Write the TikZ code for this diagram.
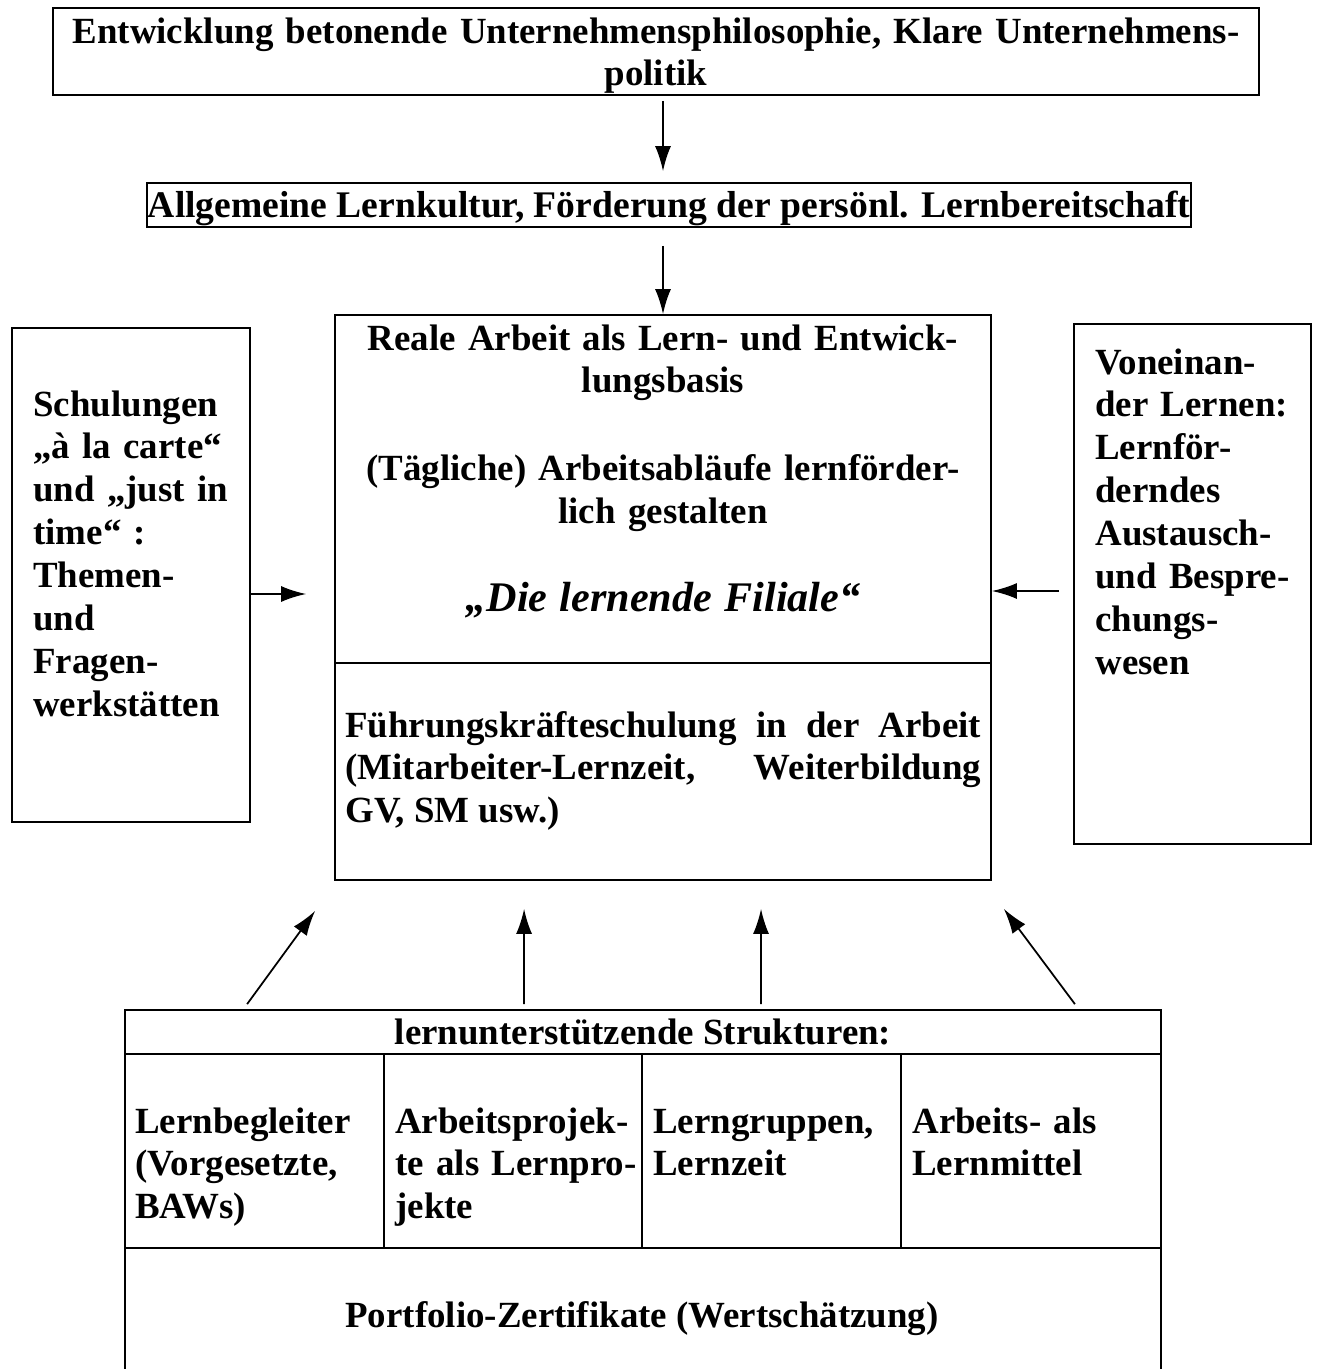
\documentclass[tikz,border=0pt]{standalone}
\usepackage{fontspec}
\setmainfont{Liberation Serif}
\usetikzlibrary{arrows.meta,fit,positioning}
\tikzset{>={Latex[length=5mm,width=3.2mm]}}
\tikzset{
  box/.style={draw, line width=1pt, inner sep=0pt},
  txt/.style={inner sep=0pt, font=\bfseries\fontsize{21}{24.4}\selectfont},
  arr/.style={->, line width=1pt},
}

\begin{document}
\begin{tikzpicture}[x=0.02cm, y=-0.02cm]
  \useasboundingbox (0,0) rectangle (1320,1369);

  % boxes, corners in px of the scan
  \node[box, fit={(53,8) (1259,95)}] (philo) {};
  \node[box, fit={(147,183) (1191,227)}] (kultur) {};
  \node[box, fit={(335,315) (991,663)}] (work) {};
  \node[box, fit={(335,663) (991,880)}] (lead) {};
  \node[box, fit={(12,328) (250,822)}] (school) {};
  \node[box, fit={(1074,324) (1311,844)}] (peer) {};
  \node[box, fit={(125,1010) (1161,1054)}] (struct) {};
  \node[box, fit={(125,1054) (384,1248)}] (cellA) {};
  \node[box, fit={(384,1054) (642,1248)}] (cellB) {};
  \node[box, fit={(642,1054) (901,1248)}] (cellC) {};
  \node[box, fit={(901,1054) (1161,1248)}] (cellD) {};
  \node[box, fit={(125,1248) (1161,1375)}] (folio) {};

  % texts
  \node[txt, text width=26cm, align=center, anchor=base] (philoT) at (656,43)
    {Entwicklung betonende Unternehmensphilosophie, Klare Unternehmens-\\politik};
  \node[txt, anchor=base] (kulturT) at (669,217)
    {\fontsize{21.4}{24.4}\selectfont Allgemeine Lernkultur, Förderung der persönl. Lernbereitschaft};
  \node[txt, text width=14cm, align=center, anchor=base] (workT) at (663,350)
    {Reale Arbeit als Lern- und Entwick-\\lungsbasis\\[25.5pt]
     (Tägliche) Arbeitsabläufe lernförder-\\lich gestalten\\[26pt]
     {\itshape\fontsize{24}{24.4}\selectfont „Die lernende Filiale“}};
  \node[txt, text width=12.72cm, align=justify, anchor=base west] (leadT) at (345,737)
    {\hyphenpenalty=10000 Führungskräfteschulung in der Arbeit\linebreak
     (Mitarbeiter-Lernzeit, Weiterbildung\linebreak GV, SM usw.)};
  \node[txt, text width=4.5cm, align=left, anchor=base west] (schoolT) at (33,416)
    {Schulungen\\„à la carte“\\und „just in\\time“ :\\Themen-\\und\\Fragen-\\werkstätten};
  \node[txt, text width=4.5cm, align=left, anchor=base west] (peerT) at (1095,374)
    {Voneinan-\\der Lernen:\\Lernför-\\derndes\\Austausch-\\und Bespre-\\chungs-\\wesen};
  \node[txt, anchor=base] (structT) at (643,1044) {lernunterstützende Strukturen:};
  \node[txt, text width=5cm, align=left, anchor=base west] (cellAT) at (135,1133)
    {Lernbegleiter\\(Vorgesetzte,\\BAWs)};
  \node[txt, text width=5cm, align=left, anchor=base west] (cellBT) at (395,1133)
    {Arbeitsprojek-\\te als Lernpro-\\jekte};
  \node[txt, text width=5cm, align=left, anchor=base west] (cellCT) at (653,1133)
    {Lerngruppen,\\Lernzeit};
  \node[txt, text width=5cm, align=left, anchor=base west] (cellDT) at (912,1133)
    {Arbeits- als\\Lernmittel};
  \node[txt, anchor=base] (folioT) at (642,1327) {Portfolio-Zertifikate (Wertschätzung)};

  % arrows down the middle
  \draw[arr, shorten <=0.1cm, shorten >=0.22cm] (philo.south -| work.north) -- (kultur.north -| work.north);
  \draw[arr, shorten <=0.36cm] (kultur.south -| work.north) -- (work.north);

  % side arrows
  \coordinate (la) at ([yshift=-0.38cm]school.east);
  \draw[arr, shorten >=0.56cm] (la) -- (la -| work.west);
  \coordinate (ra) at ([yshift=-0.14cm]peer.west);
  \draw[arr, shorten <=0.28cm] (ra) -- (ra -| work.east);

  % arrows from the structures up
  \coordinate (s1) at ([shift={(2.46cm,0.1cm)}]struct.north west);
  \coordinate (t1) at ([shift={(-0.38cm,-0.6cm)}]lead.south west);
  \coordinate (s2) at ([shift={(8cm,0.1cm)}]struct.north west);
  \coordinate (t2) at ([shift={(3.8cm,-0.56cm)}]lead.south west);
  \coordinate (s3) at ([shift={(12.74cm,0.1cm)}]struct.north west);
  \coordinate (t3) at ([shift={(8.54cm,-0.56cm)}]lead.south west);
  \coordinate (s4) at ([shift={(19.02cm,0.1cm)}]struct.north west);
  \coordinate (t4) at ([shift={(0.24cm,-0.56cm)}]lead.south east);
  \draw[arr] (s1) -- (t1);
  \draw[arr] (s2) -- (t2);
  \draw[arr] (s3) -- (t3);
  \draw[arr] (s4) -- (t4);
\end{tikzpicture}
\end{document}
